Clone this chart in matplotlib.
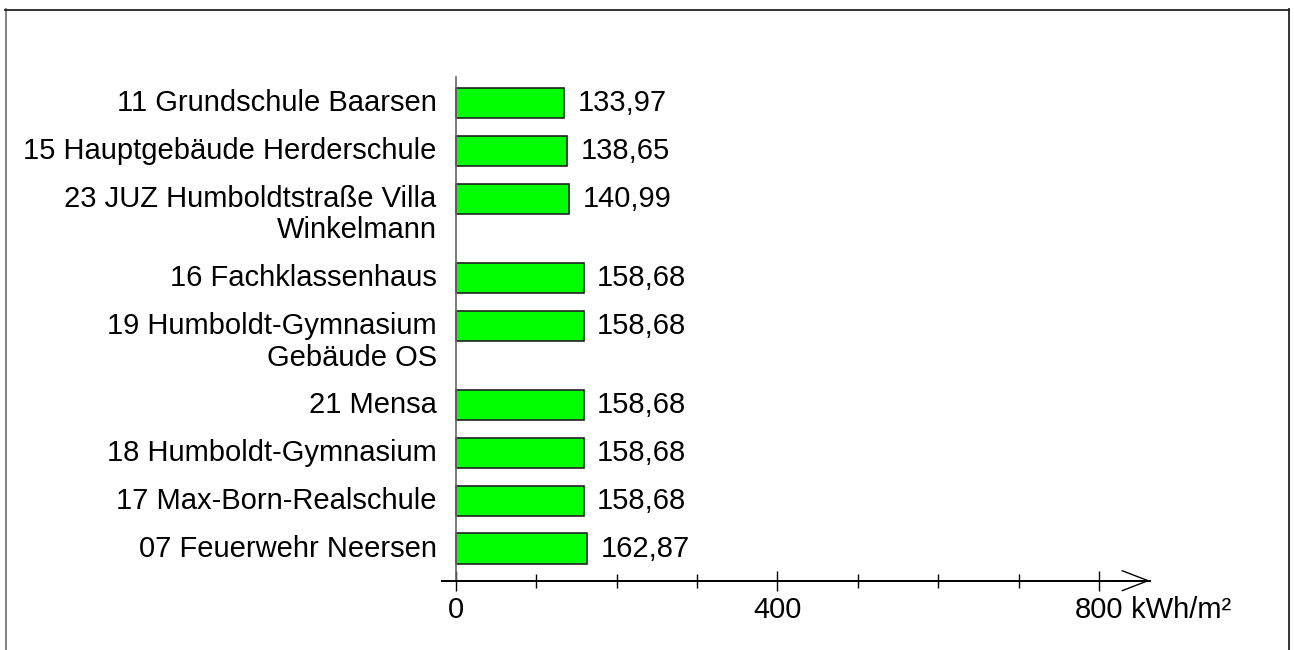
import matplotlib.pyplot as plt
from matplotlib.lines import Line2D

plt.rcParams['font.family'] = ['Liberation Sans', 'DejaVu Sans']

labels = ["11 Grundschule Baarsen", "15 Hauptgebäude Herderschule",
          "23 JUZ Humboldtstraße Villa\nWinkelmann", "16 Fachklassenhaus",
          "19 Humboldt-Gymnasium\nGebäude OS", "21 Mensa", "18 Humboldt-Gymnasium",
          "17 Max-Born-Realschule", "07 Feuerwehr Neersen"]
values = [133.97, 138.65, 140.99, 158.68, 158.68, 158.68, 158.68, 158.68, 162.87]
major_ticks = [0, 400, 800]
minor_ticks = [100, 200, 300, 500, 600, 700]
unit = "kWh/m²"

W, H = 1294, 650
fs = 21
fig = plt.figure(figsize=(W / 100, H / 100), dpi=100)

# frame around the picture (bottom edge is cut off)
fig.add_artist(Line2D([5.5 / W, 5.5 / W], [0, 1 - 9 / H], color='#777777', lw=1.3))
fig.add_artist(Line2D([5 / W, 1289 / W], [1 - 9.5 / H, 1 - 9.5 / H], color='#222222', lw=1.3))
fig.add_artist(Line2D([1289 / W, 1289 / W], [0, 1 - 9 / H], color='#222222', lw=1.3))

ax = fig.add_axes([442 / W, 1 - 580.7 / H, (1150 - 442) / W, (580.7 - 77) / H])

# slot positions: one slot per bar, extra space for wrapped labels
line_step = 0.663
pos = []
p = 0.0
for lab in labels:
    pos.append(p)
    p += 1 + line_step * lab.count('\n')

ax.barh(pos, values, height=0.63, color='#00ff00', edgecolor='#222222', linewidth=1.2)

for y, v, lab in zip(pos, values, labels):
    ax.text(v + 17, y, f"{v:.2f}".replace('.', ','), va='center', ha='left', fontsize=fs)
    for j, line in enumerate(lab.split('\n')):
        ax.text(-24, y + j * line_step, line, va='center', ha='right', fontsize=fs)

ax.set_xlim(-17.4, 863.5)
ax.set_ylim(10.0, -0.55)
ax.set_yticks([])

for s in ['top', 'right']:
    ax.spines[s].set_visible(False)
ax.spines['left'].set_position(('data', 0))
ax.spines['left'].set_color('#666666')
ax.spines['left'].set_linewidth(1.2)
ax.spines['bottom'].set_color('black')
ax.spines['bottom'].set_linewidth(1.4)

ax.set_xticks(major_ticks)
ax.set_xticks(minor_ticks, minor=True)
ax.set_xticklabels([str(t) for t in major_ticks])
ax.tick_params(axis='x', which='major', direction='inout', length=13.7, width=1,
               labelsize=fs, pad=4)
ax.tick_params(axis='x', which='minor', direction='inout', length=9.6, width=1)

# open arrow head at the end of the x axis
ax.annotate('', xy=(1, 0), xycoords='axes fraction', xytext=(0.95, 0),
            arrowprops=dict(arrowstyle='->, head_length=1.87, head_width=0.72',
                            color='black', lw=1, shrinkA=0, shrinkB=0))

fig.canvas.draw()
lab800 = ax.get_xticklabels()[-1]
ax.annotate(" " + unit, xy=(1, 0), xycoords=lab800, va='bottom', ha='left', fontsize=fs)

fig.savefig('out.png', dpi=100)
